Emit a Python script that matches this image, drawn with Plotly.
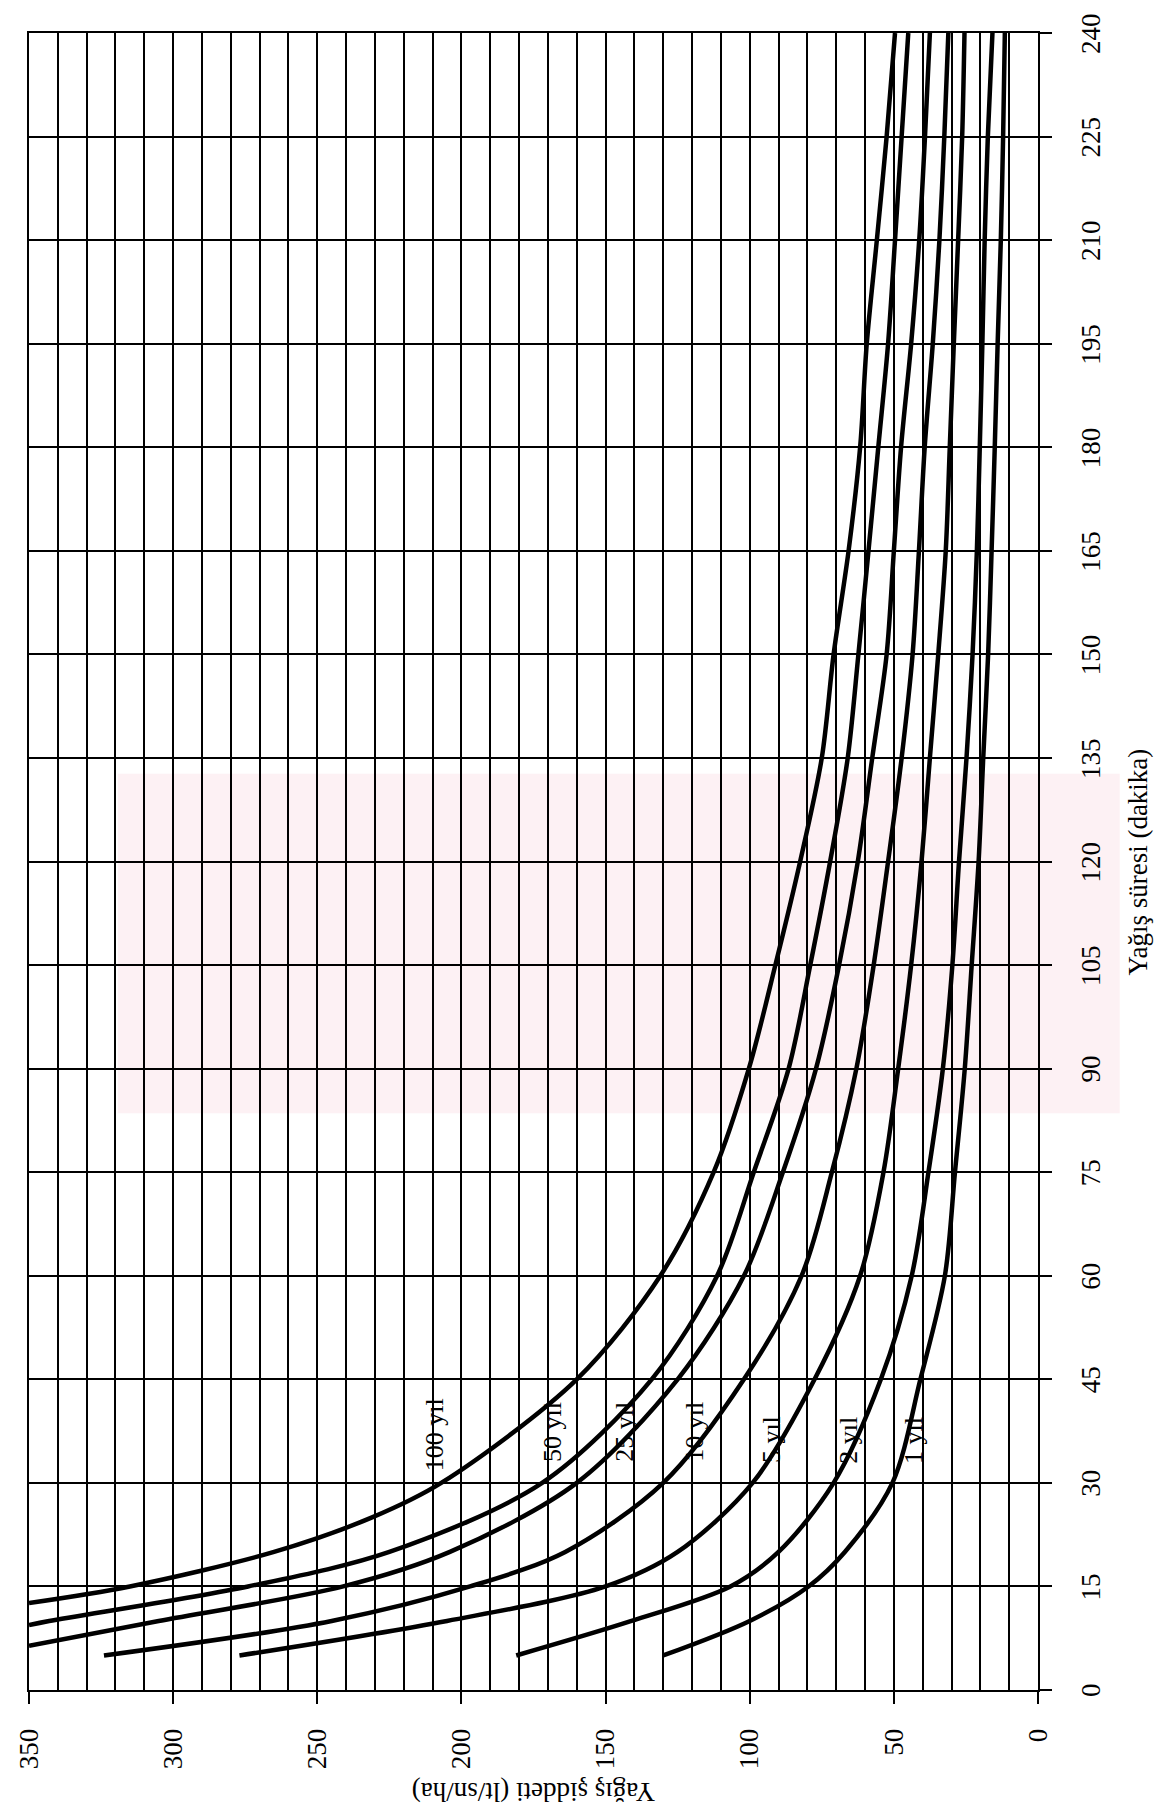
import plotly.graph_objects as go

# ---- data ----
# durations (minutes) and intensities (lt/sn/ha) for each return period
t_100 = [12.6, 15, 20, 25, 30, 45, 60, 75, 90, 105, 120, 135, 150, 165, 180, 195, 210, 225, 240]
i_100 = [350, 315, 265, 231, 207, 160, 131, 112.5, 100.3, 91.1, 82.5, 75, 70.9, 65.7, 61.7, 59.4, 55.9, 52.5, 49.6]

t_50 = [9.4, 10, 15, 20, 30, 45, 60, 75, 90, 105, 120, 135, 150, 165, 180, 195, 210, 225, 240]
i_50 = [350, 343, 274, 225, 172, 134, 111.3, 98.6, 86.5, 79, 72.1, 66, 62.3, 58.8, 55.4, 52, 49.6, 47.3, 45]

t_25 = [6.4, 10, 15, 20, 30, 45, 60, 75, 90, 105, 120, 135, 150, 165, 180, 195, 210, 225, 240]
i_25 = [350, 305, 241, 204, 160, 125, 102, 88.5, 77, 69, 62.5, 57.5, 52.5, 50, 47.5, 44, 41.2, 39.2, 37.5]

t_std = [5, 10, 15, 20, 30, 45, 60, 75, 90, 105, 120, 135, 150, 165, 180, 195, 210, 225, 240]
i_10 = [324, 245, 197, 164, 130, 102, 82, 71.5, 63, 57, 52, 47.3, 43.5, 41.3, 39.3, 36.5, 34.2, 32.5, 31.1]
i_5 = [277, 205, 150, 125, 99, 77.5, 61.7, 53.6, 48.5, 44, 40.4, 37.5, 34.6, 32, 30.6, 29.2, 27.7, 26.3, 25.5]
i_2 = [181, 141, 106.7, 90, 70.9, 54.5, 43.8, 38, 33, 29.7, 27.4, 24.8, 22.7, 21.2, 20.2, 19.3, 18.5, 17.4, 15.8]
i_1 = [130, 100, 79.6, 67, 50.5, 40.8, 32.3, 28.8, 25.4, 23, 20.6, 19, 17.3, 16.1, 15, 14, 12.9, 12.1, 11.5]

series_names = ["100 yıl", "50 yıl", "25 yıl", "10 yıl", "5 yıl", "2 yıl", "1 yıl"]
series_t = [t_100, t_50, t_25, t_std, t_std, t_std, t_std]
series_i = [i_100, i_50, i_25, i_10, i_5, i_2, i_1]

# curve label anchor positions (intensity, duration)
label_i = [209.5, 168.2, 143.3, 119, 92.6, 66, 43.4]
label_t = [36.9, 37.4, 37.4, 37.4, 36.2, 36.2, 36.2]

x_ticks = list(range(0, 351, 50))
y_ticks = list(range(0, 241, 15))

x_title = "Yağış şiddeti (lt/sn/ha)"
y_title = "Yağış süresi (dakika)"

SERIF = "Liberation Serif"

fig = go.Figure()
for name, t, v in zip(series_names, series_t, series_i):
    fig.add_trace(go.Scatter(
        x=v, y=t, mode="lines", name=name,
        line=dict(color="black", width=4.5, shape="spline", smoothing=0.9),
        showlegend=False, hoverinfo="skip",
    ))

annotations = []
for name, xi, yt in zip(series_names, label_i, label_t):
    annotations.append(dict(
        x=xi, y=yt, xref="x", yref="y", text=name, showarrow=False,
        textangle=-90, font=dict(family=SERIF, size=26, color="black"),
        xanchor="center", yanchor="middle",
    ))

# duration tick labels, centred on their grid lines
for v in y_ticks:
    annotations.append(dict(
        x=1.0525, y=v, xref="paper", yref="y", text=str(v), showarrow=False,
        textangle=-90, font=dict(family=SERIF, size=27, color="black"),
        xanchor="center", yanchor="middle",
    ))

annotations.append(dict(
    x=0.5, y=-0.062, xref="paper", yref="paper", text=x_title, showarrow=False,
    textangle=180, font=dict(family=SERIF, size=27, color="black"),
    xanchor="center", yanchor="middle",
))
annotations.append(dict(
    x=1.099, y=0.5, xref="paper", yref="paper", text=y_title, showarrow=False,
    textangle=-90, font=dict(family=SERIF, size=27, color="black"),
    xanchor="center", yanchor="middle",
))

# faint watermark band behind the grid
shapes = [dict(
    type="rect", xref="paper", yref="paper",
    x0=0.088, x1=1.081, y0=0.348, y1=0.553,
    fillcolor="rgba(245,170,185,0.16)", line=dict(width=0), layer="below",
)]

axis_common = dict(
    ticks="outside", ticklen=12, tickwidth=2, tickcolor="black",
    showgrid=True, gridcolor="black", gridwidth=2,
    showline=True, linecolor="black", linewidth=2, mirror=True,
    zeroline=False, tickangle=-90, automargin=False,
    tickfont=dict(family=SERIF, size=27, color="black"),
)

fig.update_layout(
    width=1162, height=1817,
    margin=dict(l=21, r=132, t=25, b=135),
    plot_bgcolor="white", paper_bgcolor="white",
    xaxis=dict(range=[350, 0], tickvals=x_ticks, ticklabelstandoff=14,
               minor=dict(dtick=10, showgrid=True, gridcolor="black", gridwidth=2),
               **axis_common),
    yaxis=dict(range=[0, 240], tickvals=y_ticks, side="right", showticklabels=False,
               **axis_common),
    annotations=annotations,
    shapes=shapes,
)

fig.write_html("out.html")
